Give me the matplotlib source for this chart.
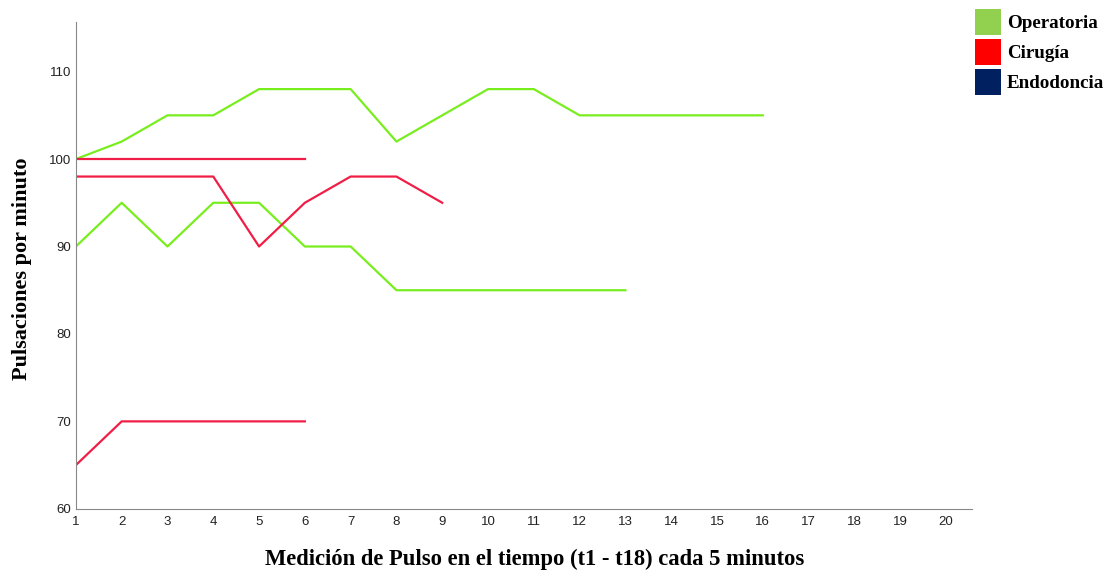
import matplotlib
matplotlib.use('Agg')
import matplotlib.pyplot as plt
from matplotlib.patches import Patch

# Pulse readings per patient, grouped by specialty
operatoria = [
    [100, 102, 105, 105, 108, 108, 108, 102, 105, 108, 108, 105, 105, 105, 105, 105],
    [90, 95, 90, 95, 95, 90, 90, 85, 85, 85, 85, 85, 85],
]
cirugia = [
    [100, 100, 100, 100, 100, 100],
    [98, 98, 98, 98, 90, 95, 98, 98, 95],
    [65, 70, 70, 70, 70, 70],
]
legend_labels = ['Operatoria', 'Cirugía', 'Endodoncia']
legend_colors = ['#92D050', '#FF0000', '#002060']
x_ticks = list(range(1, 21))
y_ticks = [60, 70, 80, 90, 100, 110]

fig = plt.figure(figsize=(11.16, 5.73), dpi=100)
ax = fig.add_axes([0.068, 0.112, 0.803, 0.85])

for serie in operatoria:
    ax.plot(range(1, len(serie) + 1), serie, color='#78EE1E', lw=1.6)
for serie in cirugia:
    ax.plot(range(1, len(serie) + 1), serie, color='#F01E46', lw=1.6)

ax.set_xlim(1, 20.57)
ax.set_ylim(60, 115.7)
ax.set_xticks(x_ticks)
ax.set_yticks(y_ticks)
ax.tick_params(axis='x', length=0, labelsize=9.5, pad=5.5)
ax.tick_params(axis='y', length=0, labelsize=9.5, pad=3.5)
for lbl in ax.get_xticklabels() + ax.get_yticklabels():
    lbl.set_fontfamily('Liberation Sans')
    lbl.set_color('#222222')
for s in ['top', 'right']:
    ax.spines[s].set_visible(False)
for s in ['left', 'bottom']:
    ax.spines[s].set_color('#888888')

ax.set_xlabel('Medición de Pulso en el tiempo (t1 - t18) cada 5 minutos',
              fontfamily='Liberation Serif', fontweight='bold', fontsize=16.3)
ax.set_ylabel('Pulsaciones por minuto',
              fontfamily='Liberation Serif', fontweight='bold', fontsize=16)
ax.xaxis.set_label_coords(0.512, -0.104)
ax.yaxis.set_label_coords(-0.0603, 0.493)
ax.xaxis.label.set_va('center')
ax.yaxis.label.set_va('center')

handles = [Patch(facecolor=c, edgecolor='none') for c in legend_colors]
fig.legend(handles, legend_labels, loc='upper left', bbox_to_anchor=(0.8737, 0.984),
           frameon=False, handlelength=1.37, handleheight=1.75, labelspacing=0.18,
           handletextpad=0.3, borderaxespad=0.0, borderpad=0.0,
           prop={'family': 'Liberation Serif', 'weight': 'bold', 'size': 13.7})

fig.savefig('out.png', dpi=100)
